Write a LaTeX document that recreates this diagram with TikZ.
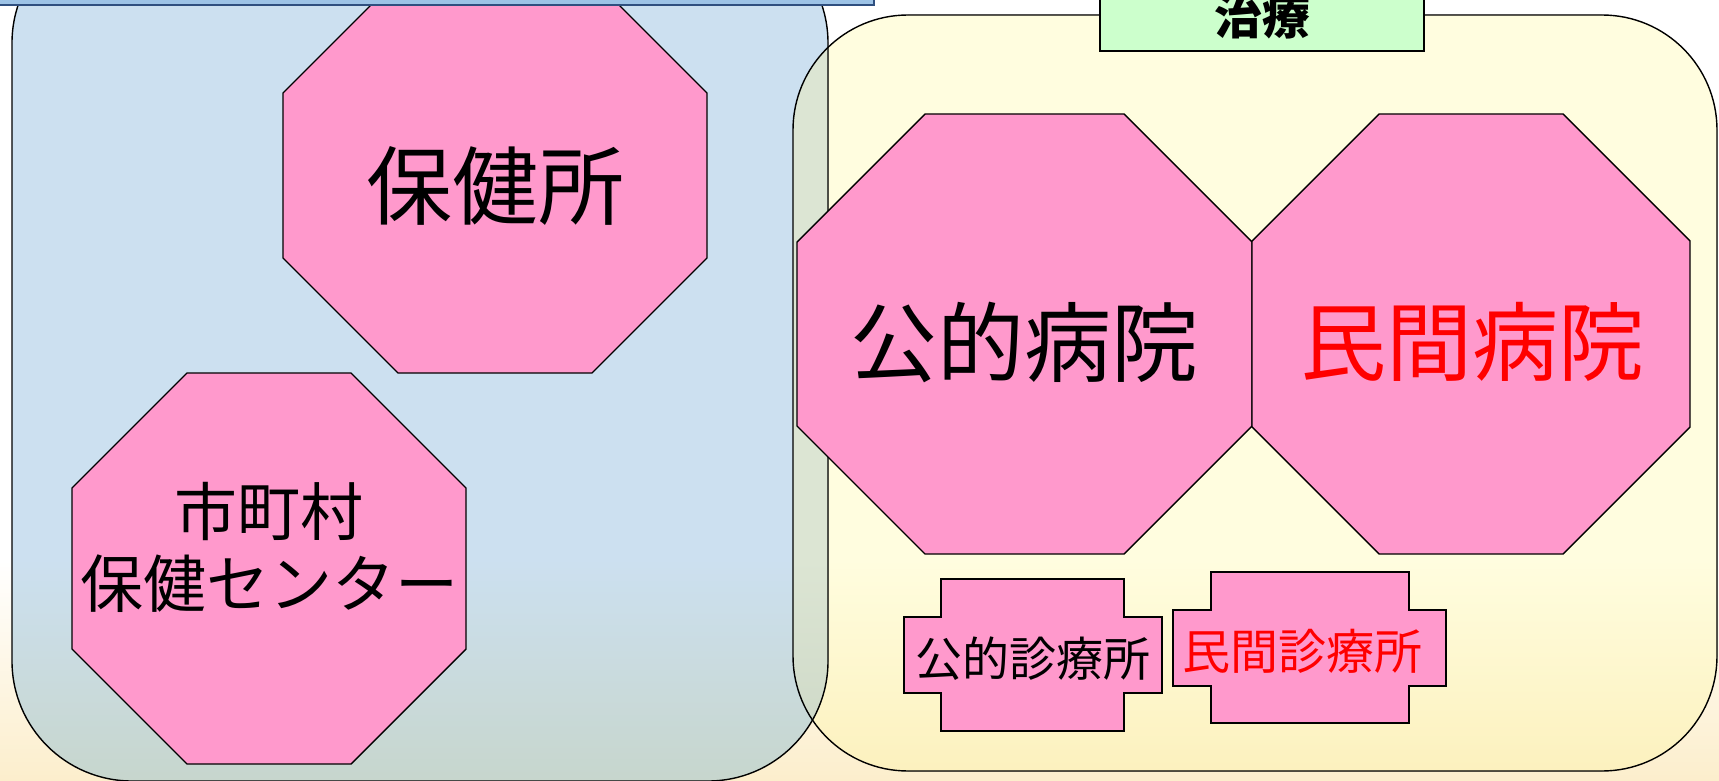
\documentclass[tikz,border=0pt]{standalone}
\usepackage{fontspec}
\newfontfamily\jp{Noto Sans CJK JP}
\definecolor{bluetop}{HTML}{CCE0F0}
\definecolor{bluebot}{HTML}{C7D6CD}
\definecolor{yeltop}{HTML}{FFFDDF}
\definecolor{yelbot}{HTML}{FCF1BE}
\definecolor{ovtop}{HTML}{DCE5D3}
\definecolor{ovbot}{HTML}{CCD7C6}
\definecolor{bgbot}{HTML}{FCEECC}
\definecolor{pinkfill}{HTML}{FF99CC}
\definecolor{barfill}{HTML}{9DC3E6}
\definecolor{bardraw}{HTML}{2F4F7F}
\definecolor{greenfill}{HTML}{CCFFCC}
\pgfdeclareverticalshading{blueshade}{100bp}{color(0bp)=(bluebot); color(25bp)=(bluebot); color(38bp)=(bluetop); color(100bp)=(bluetop)}
\pgfdeclareverticalshading{yelshade}{100bp}{color(0bp)=(yelbot); color(25bp)=(yelbot); color(39bp)=(yeltop); color(100bp)=(yeltop)}
\pgfdeclareverticalshading{ovshade}{100bp}{color(0bp)=(ovbot); color(25bp)=(ovbot); color(39bp)=(ovtop); color(100bp)=(ovtop)}
\tikzset{
  shapeline/.style={draw=black, line width=1.4pt, line join=miter},
  pinkshape/.style={shapeline, fill=pinkfill},
  txt/.style={inner sep=0pt, align=center, font=\jp},
}
\newcommand\octpath[5]{(#1+#5,#2)--(#3-#5,#2)--(#3,#2+#5)--(#3,#4-#5)--(#3-#5,#4)--(#1+#5,#4)--(#1,#4-#5)--(#1,#2+#5)--cycle}
% cross: outer x1, inner x1, inner x2, outer x2, y top, arm y1, arm y2, y bottom
\newcommand\crosspath[8]{(#2,#5)--(#3,#5)--(#3,#6)--(#4,#6)--(#4,#7)--(#3,#7)--(#3,#8)--(#2,#8)--(#2,#7)--(#1,#7)--(#1,#6)--(#2,#6)--cycle}
\begin{document}
\begin{tikzpicture}[x=1pt,y=-1pt]
\useasboundingbox (0,0) rectangle (1719,781);
\clip (0,0) rectangle (1719,781);
% background
\fill[white] (0,0) rectangle (1719,781);
\fill[top color=white, bottom color=bgbot] (0,560) rectangle (1719,781);
% group areas
\fill[shading=blueshade, rounded corners=120pt] (12,-77) rectangle (828,781);
\fill[shading=yelshade, rounded corners=115pt] (793,15) rectangle (1717,771);
\begin{scope}
  \clip[rounded corners=120pt] (12,-77) rectangle (828,781);
  \fill[shading=ovshade, rounded corners=115pt] (793,15) rectangle (1717,771);
\end{scope}
\draw[line width=1.4pt, rounded corners=120pt] (12,-77) rectangle (828,781);
\draw[line width=1.4pt, rounded corners=115pt] (793,15) rectangle (1717,771);
% octagons
\draw[pinkshape] \octpath{283}{-22}{707}{373}{115};
\draw[pinkshape] \octpath{72}{373}{466}{764}{115};
\draw[pinkshape] \octpath{797}{114}{1252}{554}{128};
\draw[pinkshape] \octpath{1252}{114}{1690}{554}{127};
% crosses
\draw[pinkshape] \crosspath{904}{941}{1124}{1162}{579}{617}{693}{731};
\draw[pinkshape] \crosspath{1173}{1211}{1409}{1446}{572}{610}{686}{723};
% texts
\node[txt, font=\jp\fontsize{86}{100}\selectfont] (hokenjo) at (495,186) {保健所};
\node[txt, font=\jp\fontsize{63}{68}\selectfont] (shichoson) at (269,547) {市町村\\[4pt]保健センター};
\node[txt, font=\jp\fontsize{87}{100}\selectfont] (kouteki) at (1024,342) {公的病院};
\node[txt, font=\jp\fontsize{86}{100}\selectfont, text=red] (minkan) at (1472,342) {民間病院};
\node[txt, font=\jp\fontsize{47}{55}\selectfont] (koutekiclinic) at (1033,659) {公的診療所};
\node[txt, font=\jp\fontsize{48}{55}\selectfont, text=red] (minkanclinic) at (1302,651) {民間診療所};
% top bar and label
\draw[fill=barfill, draw=bardraw, line width=1.4pt] (-5,-20) rectangle (874,5);
\node[draw=black, line width=1.4pt, fill=greenfill, minimum width=324pt, minimum height=71pt, inner sep=0pt] (chiryobox) at (1262,15.5) {};
\node[txt, font=\jp\bfseries\fontsize{48}{55}\selectfont] (chiryo) at (1262,16) {治療};
\end{tikzpicture}
\end{document}
